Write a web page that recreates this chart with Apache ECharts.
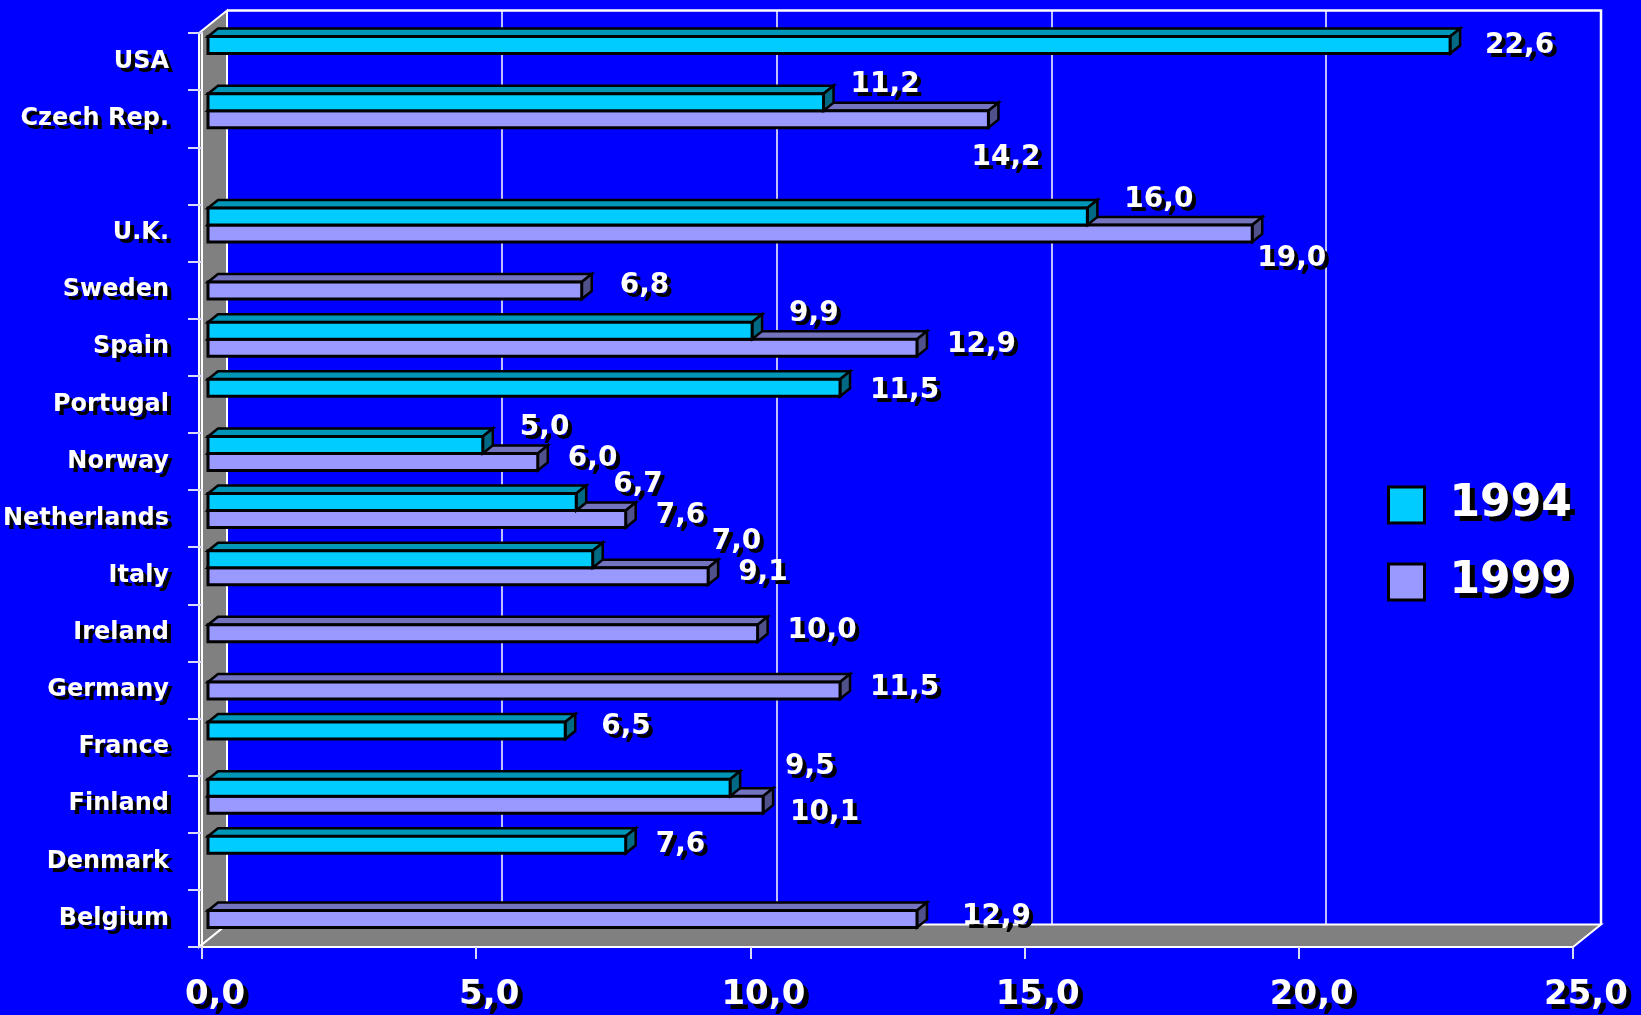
<!DOCTYPE html>
<html>
<head>
<meta charset="utf-8">
<title>1994 / 1999</title>
<script src="https://cdn.jsdelivr.net/npm/echarts@6/dist/echarts.min.js"></script>
<style>
  html, body { margin: 0; padding: 0; background: #0000ff; }
  #chart { width: 1641px; height: 1015px; }
</style>
</head>
<body>
<div id="chart"></div>
<script>
// categories top to bottom (one empty slot between Czech Rep. and U.K.)
var categories = ["USA", "Czech Rep.", "", "U.K.", "Sweden", "Spain", "Portugal", "Norway",
  "Netherlands", "Italy", "Ireland", "Germany", "France", "Finland", "Denmark", "Belgium"];
var values1994 = [22.6, 11.2, null, 16.0, null, 9.9, 11.5, 5.0, 6.7, 7.0, null, null, 6.5, 9.5, 7.6, null];
var values1999 = [null, 14.2, null, 19.0, 6.8, 12.9, null, 6.0, 7.6, 9.1, 10.0, 11.5, null, 10.1, null, 12.9];
var xTicks = [0, 5, 10, 15, 20, 25];

// label nudges (px) for the few labels that sit away from the default spot
var labelNudge = {
  "1994|USA": [35, 1], "1994|Czech Rep.": [27, -17], "1994|Portugal": [30, 3],
  "1994|Italy": [119, -17], "1994|France": [36, -4], "1994|Finland": [55, -21],
  "1994|Denmark": [30, 0],
  "1999|Czech Rep.": [-17, 39], "1999|U.K.": [5, 25], "1999|Finland": [27, 8],
  "1999|Belgium": [45, -2], "1999|Sweden": [38, -5]
};

var FONT = "DejaVu Sans";
var front = { left: 199, top: 33, w: 1374, h: 914 };
var depth = [28, -22.5];      // back plane offset
var barShift = [9, -8];       // bars sit a bit behind the front edge
var barH = 17;

function gridAt(dx, dy) {
  return {
    left: front.left + dx, top: front.top + dy,
    width: front.w, height: front.h, containLabel: false
  };
}
function fmt(v) { return v.toFixed(1).replace(".", ","); }

var styles = {
  "1994": { front: "#00ccff", top: "#0096b8", side: "#006a85" },
  "1999": { front: "#9999ff", top: "#7373c0", side: "#50508a" }
};

function makeRender(name, upper, other) {
  var st = styles[name];
  return function (params, api) {
    var v = api.value(0), c = api.value(1);
    var p0 = api.coord([0, c]), p1 = api.coord([v, c]);
    var x0 = p0[0], x1 = p1[0];
    var y0 = upper ? p0[1] - barH : p0[1];
    var dx = 10, dy = -8;
    var cat = categories[c];
    var paired = other[c] != null;
    var nudge = labelNudge[name + "|" + cat] ||
      (upper ? [37, paired ? -17 : 0] : [30, -3]);
    var lx = x1 + nudge[0], ly = y0 + barH / 2 + nudge[1];
    var txt = fmt(v);
    var font = "bold 28px '" + FONT + "'";
    return {
      type: "group",
      children: [
        { type: "polygon", shape: { points: [[x0, y0], [x0 + dx, y0 + dy], [x1 + dx, y0 + dy], [x1, y0]] },
          style: { fill: st.top, stroke: "#000", lineWidth: 2.5, lineJoin: "miter" } },
        { type: "polygon", shape: { points: [[x1, y0], [x1 + dx, y0 + dy], [x1 + dx, y0 + barH + dy], [x1, y0 + barH]] },
          style: { fill: st.side, stroke: "#000", lineWidth: 2.5 } },
        { type: "rect", shape: { x: x0, y: y0, width: x1 - x0, height: barH },
          style: { fill: st.front, stroke: "#000", lineWidth: 3 } },
        { type: "text", x: lx + 4, y: ly + 4, z2: 20,
          style: { text: txt, font: font, fill: "#000", verticalAlign: "middle", align: "left" } },
        { type: "text", x: lx, y: ly, z2: 21,
          style: { text: txt, font: font, fill: "#fff", verticalAlign: "middle", align: "left" } }
      ]
    };
  };
}

function toData(vals) {
  var out = [];
  vals.forEach(function (v, i) { if (v != null) out.push([v, i]); });
  return out;
}

// frame: left wall, floor, back top edge
var fl = front.left, ft = front.top, fr = front.left + front.w, fb = front.top + front.h;
var bl = fl + depth[0], bt = ft + depth[1], br = fr + depth[0], bb = fb + depth[1];
var frame = [
  { type: "polygon", z: -10, shape: { points: [[fl, ft], [bl, bt], [bl, bb], [fl, fb]] },
    style: { fill: "#808080", stroke: "#ffffff", lineWidth: 2 } },
  { type: "polygon", z: -10, shape: { points: [[fl, fb], [bl, bb], [br, bb], [fr, fb]] },
    style: { fill: "#808080", stroke: "#ffffff", lineWidth: 2 } },
  { type: "polyline", z: -10, shape: { points: [[bl, bt], [br, bt], [br, bb]] },
    style: { stroke: "#ffffff", lineWidth: 2.5, fill: null } }
];

function shadowText(off) {
  return {
    color: "#fff", fontFamily: FONT, fontWeight: "bold",
    textShadowColor: "#000", textShadowOffsetX: off, textShadowOffsetY: off, textShadowBlur: 0.1
  };
}

var chart = echarts.init(document.getElementById("chart"));
var option = {
  backgroundColor: "#0000ff",
  animation: false,
  graphic: frame,
  grid: [
    gridAt(depth[0], depth[1]),        // back plane (grid lines)
    gridAt(0, 0),                      // front axes
    gridAt(barShift[0], barShift[1])   // bars
  ],
  xAxis: [
    { gridIndex: 0, type: "value", min: 0, max: 25, interval: 5,
      axisLine: { show: false }, axisTick: { show: false }, axisLabel: { show: false },
      splitLine: { show: true, lineStyle: { color: "#ffffff", width: 1.5 } } },
    { gridIndex: 1, type: "value", min: 0, max: 25, interval: 5,
      axisLine: { show: true, lineStyle: { color: "#ffffff", width: 2 } },
      axisTick: { show: true, length: 12, lineStyle: { color: "#d8d8ff", width: 2 } },
      splitLine: { show: false },
      axisLabel: Object.assign({ fontSize: 34, margin: 31, padding: [0, 0, 0, 26],
        formatter: function (v) { return xTicks.indexOf(v) >= 0 ? fmt(v) : ""; } }, shadowText(5)) },
    { gridIndex: 2, type: "value", min: 0, max: 25, show: false }
  ],
  yAxis: [
    { gridIndex: 0, type: "category", data: categories, inverse: true, show: false },
    { gridIndex: 1, type: "category", data: categories, inverse: true,
      axisLine: { show: true, lineStyle: { color: "#ffffff", width: 2 } },
      axisTick: { show: true, length: 14, lineStyle: { color: "#d8d8ff", width: 2 } },
      axisLabel: Object.assign({ fontSize: 24, margin: 33, interval: 0, padding: [15, 0, 0, 0] }, shadowText(4)) },
    { gridIndex: 2, type: "category", data: categories, inverse: true, show: false }
  ],
  legend: {
    data: ["1994", "1999"],
    orient: "vertical",
    left: 1382, top: 478,
    icon: "rect",
    itemWidth: 36, itemHeight: 36, itemGap: 33,
    itemStyle: { borderColor: "#000", borderWidth: 3 },
    textStyle: Object.assign({ fontSize: 44, padding: [9, 0, 0, 20] }, shadowText(5))
  },
  series: [
    { name: "1999", type: "custom", xAxisIndex: 2, yAxisIndex: 2, z: 3,
      itemStyle: { color: styles["1999"].front },
      encode: { x: 0, y: 1 }, data: toData(values1999),
      renderItem: makeRender("1999", false, values1994) },
    { name: "1994", type: "custom", xAxisIndex: 2, yAxisIndex: 2, z: 4,
      itemStyle: { color: styles["1994"].front },
      encode: { x: 0, y: 1 }, data: toData(values1994),
      renderItem: makeRender("1994", true, values1999) }
  ]
};
chart.setOption(option);
window.addEventListener("resize", function () { chart.resize(); });
</script>
</body>
</html>
